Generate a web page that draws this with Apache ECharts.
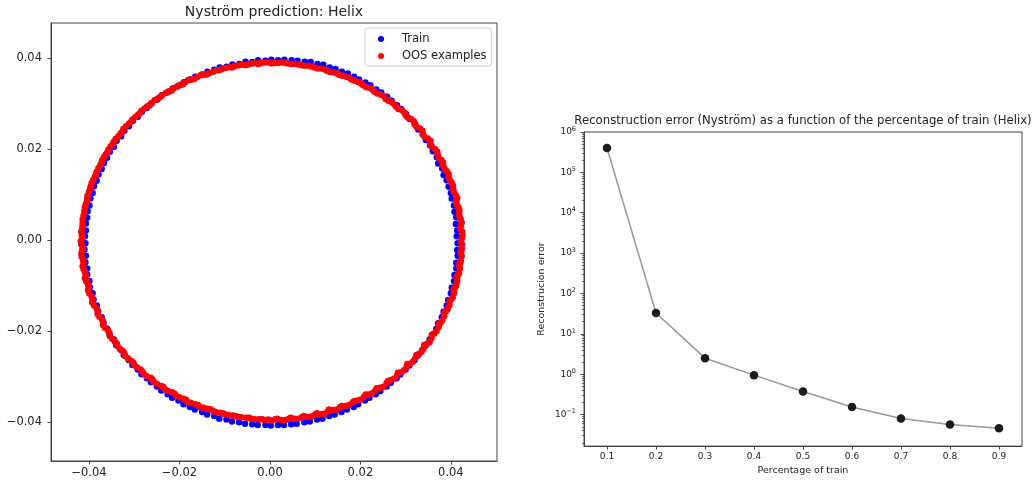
<!DOCTYPE html>
<html>
<head>
<meta charset="utf-8">
<script src="https://cdn.jsdelivr.net/npm/echarts@6/dist/echarts.min.js"></script>
<style>html,body{margin:0;padding:0;background:#fff}#c{width:1036px;height:481px}</style>
</head>
<body>
<div id="c"></div>
<script>
// ---- Left panel: Nyström prediction (Helix) ----
const trainPoints = [
[0.0415,-0.0007],[0.0413,0.0008],[0.0414,0.0021],[0.0411,0.0035],[0.0412,0.0050],[0.0408,0.0062],[0.0407,0.0076],[0.0402,0.0091],[0.0400,0.0103],[0.0395,0.0117],
[0.0391,0.0131],[0.0384,0.0143],[0.0381,0.0157],[0.0372,0.0168],[0.0369,0.0182],[0.0360,0.0195],[0.0354,0.0208],[0.0345,0.0220],[0.0338,0.0232],[0.0328,0.0243],
[0.0321,0.0255],[0.0309,0.0266],[0.0301,0.0277],[0.0290,0.0288],[0.0281,0.0296],[0.0269,0.0306],[0.0259,0.0315],[0.0246,0.0324],[0.0235,0.0331],[0.0222,0.0340],
[0.0211,0.0346],[0.0197,0.0353],[0.0186,0.0359],[0.0172,0.0366],[0.0159,0.0370],[0.0145,0.0376],[0.0132,0.0379],[0.0118,0.0385],[0.0105,0.0387],[0.0090,0.0391],
[0.0077,0.0392],[0.0061,0.0394],[0.0048,0.0395],[0.0032,0.0396],[0.0018,0.0395],[0.0003,0.0396],[-0.0010,0.0394],[-0.0026,0.0395],[-0.0039,0.0391],[-0.0054,0.0392],
[-0.0068,0.0387],[-0.0083,0.0386],[-0.0096,0.0381],[-0.0111,0.0379],[-0.0123,0.0374],[-0.0138,0.0370],[-0.0150,0.0364],[-0.0165,0.0359],[-0.0177,0.0353],[-0.0190,0.0347],
[-0.0202,0.0339],[-0.0215,0.0333],[-0.0226,0.0325],[-0.0239,0.0318],[-0.0250,0.0308],[-0.0262,0.0300],[-0.0272,0.0290],[-0.0283,0.0282],[-0.0292,0.0271],[-0.0303,0.0262],
[-0.0312,0.0250],[-0.0322,0.0240],[-0.0329,0.0228],[-0.0339,0.0218],[-0.0345,0.0205],[-0.0354,0.0194],[-0.0360,0.0181],[-0.0367,0.0169],[-0.0372,0.0156],[-0.0379,0.0144],
[-0.0383,0.0130],[-0.0389,0.0118],[-0.0392,0.0103],[-0.0397,0.0091],[-0.0399,0.0076],[-0.0403,0.0063],[-0.0404,0.0049],[-0.0407,0.0036],[-0.0407,0.0021],[-0.0409,0.0008],
[-0.0408,-0.0007],[-0.0410,-0.0021],[-0.0407,-0.0035],[-0.0408,-0.0049],[-0.0404,-0.0063],[-0.0404,-0.0076],[-0.0399,-0.0090],[-0.0398,-0.0104],[-0.0392,-0.0117],[-0.0390,-0.0131],
[-0.0383,-0.0144],[-0.0380,-0.0157],[-0.0372,-0.0170],[-0.0368,-0.0182],[-0.0360,-0.0195],[-0.0355,-0.0207],[-0.0345,-0.0219],[-0.0340,-0.0231],[-0.0329,-0.0242],[-0.0323,-0.0253],
[-0.0312,-0.0264],[-0.0304,-0.0275],[-0.0292,-0.0285],[-0.0284,-0.0295],[-0.0272,-0.0304],[-0.0263,-0.0313],[-0.0250,-0.0322],[-0.0240,-0.0331],[-0.0226,-0.0339],[-0.0216,-0.0347],
[-0.0202,-0.0353],[-0.0191,-0.0361],[-0.0177,-0.0367],[-0.0166,-0.0373],[-0.0150,-0.0378],[-0.0139,-0.0384],[-0.0123,-0.0387],[-0.0112,-0.0393],[-0.0096,-0.0395],[-0.0084,-0.0399],
[-0.0068,-0.0401],[-0.0055,-0.0404],[-0.0039,-0.0405],[-0.0027,-0.0407],[-0.0010,-0.0407],[0.0002,-0.0408],[0.0018,-0.0407],[0.0031,-0.0407],[0.0047,-0.0405],[0.0059,-0.0404],
[0.0076,-0.0401],[0.0088,-0.0399],[0.0104,-0.0395],[0.0116,-0.0393],[0.0131,-0.0387],[0.0143,-0.0384],[0.0158,-0.0378],[0.0170,-0.0373],[0.0185,-0.0367],[0.0195,-0.0361],
[0.0210,-0.0353],[0.0220,-0.0347],[0.0234,-0.0339],[0.0244,-0.0332],[0.0258,-0.0322],[0.0267,-0.0314],[0.0280,-0.0304],[0.0288,-0.0296],[0.0300,-0.0285],[0.0308,-0.0276],
[0.0320,-0.0264],[0.0327,-0.0254],[0.0337,-0.0242],[0.0344,-0.0232],[0.0353,-0.0219],[0.0359,-0.0208],[0.0368,-0.0195],[0.0372,-0.0183],[0.0380,-0.0170],[0.0384,-0.0158],
[0.0391,-0.0144],[0.0394,-0.0132],[0.0400,-0.0117],[0.0402,-0.0105],[0.0407,-0.0090],[0.0408,-0.0077],[0.0412,-0.0063],[0.0412,-0.0050],[0.0415,-0.0035],[0.0414,-0.0022]
];
const oosPoints = [
[0.0424,0.0004],[0.0425,0.0018],[0.0422,0.0031],[0.0422,0.0045],[0.0418,0.0058],[0.0417,0.0072],[0.0412,0.0085],[0.0411,0.0098],[0.0405,0.0112],[0.0402,0.0125],
[0.0395,0.0138],[0.0391,0.0151],[0.0383,0.0163],[0.0379,0.0176],[0.0371,0.0187],[0.0365,0.0200],[0.0355,0.0211],[0.0349,0.0223],[0.0338,0.0233],[0.0332,0.0245],
[0.0320,0.0254],[0.0312,0.0266],[0.0300,0.0274],[0.0292,0.0285],[0.0279,0.0293],[0.0270,0.0302],[0.0256,0.0310],[0.0246,0.0319],[0.0231,0.0326],[0.0221,0.0334],
[0.0206,0.0340],[0.0196,0.0347],[0.0181,0.0352],[0.0169,0.0359],[0.0153,0.0363],[0.0142,0.0368],[0.0126,0.0372],[0.0114,0.0377],[0.0098,0.0379],[0.0086,0.0383],
[0.0069,0.0384],[0.0056,0.0387],[0.0040,0.0388],[0.0027,0.0390],[0.0010,0.0389],[-0.0002,0.0390],[-0.0019,0.0389],[-0.0032,0.0389],[-0.0048,0.0386],[-0.0061,0.0385],
[-0.0078,0.0382],[-0.0090,0.0380],[-0.0106,0.0376],[-0.0118,0.0373],[-0.0134,0.0367],[-0.0145,0.0364],[-0.0161,0.0358],[-0.0173,0.0353],[-0.0188,0.0346],[-0.0198,0.0341],
[-0.0213,0.0333],[-0.0223,0.0327],[-0.0238,0.0318],[-0.0248,0.0311],[-0.0262,0.0301],[-0.0271,0.0294],[-0.0284,0.0284],[-0.0292,0.0275],[-0.0304,0.0265],[-0.0312,0.0255],
[-0.0324,0.0244],[-0.0330,0.0234],[-0.0341,0.0222],[-0.0347,0.0212],[-0.0357,0.0199],[-0.0363,0.0188],[-0.0371,0.0175],[-0.0375,0.0164],[-0.0383,0.0150],[-0.0387,0.0139],
[-0.0394,0.0125],[-0.0397,0.0113],[-0.0403,0.0098],[-0.0404,0.0086],[-0.0409,0.0072],[-0.0410,0.0059],[-0.0414,0.0045],[-0.0414,0.0032],[-0.0417,0.0018],[-0.0415,0.0005],
[-0.0417,-0.0010],[-0.0415,-0.0023],[-0.0416,-0.0037],[-0.0412,-0.0050],[-0.0412,-0.0064],[-0.0407,-0.0077],[-0.0406,-0.0091],[-0.0401,-0.0103],[-0.0399,-0.0118],[-0.0392,-0.0130],
[-0.0389,-0.0144],[-0.0381,-0.0155],[-0.0377,-0.0169],[-0.0369,-0.0180],[-0.0365,-0.0193],[-0.0355,-0.0204],[-0.0349,-0.0217],[-0.0339,-0.0227],[-0.0332,-0.0239],[-0.0322,-0.0249],
[-0.0314,-0.0260],[-0.0302,-0.0270],[-0.0294,-0.0280],[-0.0282,-0.0289],[-0.0273,-0.0299],[-0.0260,-0.0306],[-0.0250,-0.0316],[-0.0236,-0.0323],[-0.0225,-0.0332],[-0.0211,-0.0338],
[-0.0200,-0.0346],[-0.0186,-0.0351],[-0.0175,-0.0358],[-0.0159,-0.0363],[-0.0147,-0.0369],[-0.0132,-0.0372],[-0.0120,-0.0378],[-0.0104,-0.0381],[-0.0092,-0.0385],[-0.0076,-0.0387],
[-0.0063,-0.0390],[-0.0046,-0.0391],[-0.0034,-0.0394],[-0.0017,-0.0394],[-0.0004,-0.0395],[0.0012,-0.0394],[0.0025,-0.0396],[0.0042,-0.0393],[0.0054,-0.0393],[0.0071,-0.0389],
[0.0084,-0.0389],[0.0100,-0.0384],[0.0112,-0.0383],[0.0128,-0.0377],[0.0140,-0.0374],[0.0155,-0.0368],[0.0167,-0.0365],[0.0183,-0.0357],[0.0194,-0.0353],[0.0208,-0.0345],
[0.0219,-0.0340],[0.0233,-0.0331],[0.0244,-0.0325],[0.0258,-0.0315],[0.0268,-0.0308],[0.0281,-0.0298],[0.0290,-0.0291],[0.0302,-0.0279],[0.0310,-0.0272],[0.0322,-0.0259],
[0.0330,-0.0251],[0.0340,-0.0238],[0.0347,-0.0229],[0.0357,-0.0216],[0.0363,-0.0206],[0.0373,-0.0192],[0.0377,-0.0182],[0.0385,-0.0168],[0.0389,-0.0157],[0.0397,-0.0143],
[0.0400,-0.0132],[0.0407,-0.0117],[0.0409,-0.0105],[0.0414,-0.0090],[0.0415,-0.0079],[0.0420,-0.0063],[0.0420,-0.0052],[0.0424,-0.0036],[0.0423,-0.0025],[0.0425,-0.0010],
[0.0422,-0.0003],[0.0426,0.0011],[0.0421,0.0024],[0.0424,0.0038],[0.0419,0.0052],[0.0419,0.0065],[0.0413,0.0078],[0.0414,0.0092],[0.0407,0.0105],[0.0405,0.0119],
[0.0398,0.0131],[0.0395,0.0145],[0.0386,0.0157],[0.0383,0.0170],[0.0373,0.0181],[0.0370,0.0194],[0.0358,0.0205],[0.0355,0.0218],[0.0342,0.0227],[0.0337,0.0240],
[0.0324,0.0249],[0.0318,0.0261],[0.0305,0.0269],[0.0297,0.0280],[0.0284,0.0288],[0.0275,0.0298],[0.0262,0.0306],[0.0252,0.0316],[0.0237,0.0322],[0.0227,0.0330],
[0.0213,0.0336],[0.0202,0.0344],[0.0188,0.0350],[0.0176,0.0356],[0.0160,0.0361],[0.0149,0.0366],[0.0133,0.0369],[0.0121,0.0375],[0.0106,0.0377],[0.0093,0.0381],
[0.0077,0.0383],[0.0063,0.0386],[0.0048,0.0387],[0.0035,0.0389],[0.0018,0.0389],
[0.0004,0.0388],[-0.0010,0.0390],[-0.0026,0.0387],[-0.0040,0.0388],[-0.0054,0.0384],[-0.0069,0.0384],[-0.0084,0.0379],[-0.0098,0.0378],[-0.0112,0.0373],[-0.0125,0.0370],
[-0.0140,0.0364],[-0.0153,0.0362],[-0.0167,0.0354],[-0.0181,0.0351],[-0.0193,0.0342],[-0.0206,0.0337],[-0.0218,0.0328],[-0.0230,0.0323],[-0.0243,0.0314],[-0.0255,0.0307],
[-0.0266,0.0296],[-0.0277,0.0289],[-0.0288,0.0278],[-0.0298,0.0270],[-0.0308,0.0259],[-0.0318,0.0250],[-0.0327,0.0237],[-0.0335,0.0228],[-0.0345,0.0216],[-0.0352,0.0206],
[-0.0360,0.0192],[-0.0367,0.0182],[-0.0373,0.0168],[-0.0379,0.0158],[-0.0385,0.0143],[-0.0391,0.0132],[-0.0396,0.0118],[-0.0400,0.0106],[-0.0404,0.0091],[-0.0407,0.0079],
[-0.0410,0.0064],[-0.0412,0.0053],[-0.0414,0.0037],[-0.0415,0.0025],[-0.0416,0.0010],
[-0.0418,-0.0003],[-0.0414,-0.0017],[-0.0417,-0.0030],[-0.0413,-0.0044],[-0.0414,-0.0058],[-0.0409,-0.0071],[-0.0409,-0.0084],[-0.0402,-0.0098],[-0.0402,-0.0111],[-0.0394,-0.0125],
[-0.0393,-0.0137],[-0.0383,-0.0150],[-0.0381,-0.0163],[-0.0371,-0.0175],[-0.0369,-0.0187],[-0.0358,-0.0199],[-0.0354,-0.0211],[-0.0343,-0.0223],[-0.0337,-0.0233],[-0.0325,-0.0244],
[-0.0320,-0.0255],[-0.0306,-0.0266],[-0.0300,-0.0275],[-0.0286,-0.0285],[-0.0279,-0.0294],[-0.0264,-0.0303],[-0.0257,-0.0312],[-0.0241,-0.0321],[-0.0232,-0.0328],[-0.0216,-0.0335],
[-0.0208,-0.0342],[-0.0191,-0.0349],[-0.0183,-0.0356],[-0.0165,-0.0361],[-0.0155,-0.0367],[-0.0138,-0.0371],[-0.0127,-0.0375],[-0.0110,-0.0380],[-0.0100,-0.0383],[-0.0082,-0.0386],
[-0.0071,-0.0389],[-0.0052,-0.0391],[-0.0042,-0.0393],[-0.0024,-0.0394],[-0.0012,-0.0396],
[0.0004,-0.0397],[0.0016,-0.0393],[0.0034,-0.0396],[0.0046,-0.0391],[0.0062,-0.0393],[0.0075,-0.0387],[0.0092,-0.0388],[0.0104,-0.0381],[0.0120,-0.0382],[0.0131,-0.0373],
[0.0148,-0.0373],[0.0159,-0.0365],[0.0175,-0.0363],[0.0187,-0.0354],[0.0201,-0.0351],[0.0212,-0.0340],[0.0226,-0.0337],[0.0236,-0.0326],[0.0251,-0.0323],[0.0261,-0.0310],
[0.0274,-0.0305],[0.0283,-0.0292],[0.0296,-0.0287],[0.0304,-0.0273],[0.0316,-0.0268],[0.0324,-0.0253],[0.0335,-0.0246],[0.0341,-0.0231],[0.0353,-0.0225],[0.0358,-0.0209],
[0.0368,-0.0201],[0.0373,-0.0185],[0.0381,-0.0177],[0.0385,-0.0161],[0.0393,-0.0152],[0.0397,-0.0135],[0.0404,-0.0127],[0.0406,-0.0109],[0.0412,-0.0100],[0.0413,-0.0082],
[0.0418,-0.0073],[0.0418,-0.0056],[0.0422,-0.0046],[0.0421,-0.0028],[0.0424,-0.0019]
];
const leftXTicks = [-0.04, -0.02, 0, 0.02, 0.04];
const leftYTicks = [-0.04, -0.02, 0, 0.02, 0.04];

// ---- Right panel: reconstruction error vs percentage of train ----
const trainPct = [0.1, 0.2, 0.3, 0.4, 0.5, 0.6, 0.7, 0.8, 0.9];
const reconError = [4.0e5, 33, 2.5, 0.95, 0.375, 0.154, 0.080, 0.057, 0.046];
const rightXTicks = [0.1, 0.2, 0.3, 0.4, 0.5, 0.6, 0.7, 0.8, 0.9];
const rightYTicks = [0.1, 1, 10, 100, 1000, 1e4, 1e5, 1e6];
const minorMultipliers = [2, 3, 4, 5, 6, 7, 8, 9];
const minorDecades = [0.01, 0.1, 1, 10, 100, 1000, 1e4, 1e5];

const rightYMinor = [];
minorDecades.forEach(d => minorMultipliers.forEach(m => { const v = +(d * m).toPrecision(3); if (v >= 0.0166 && v <= 1e6) rightYMinor.push(v); }));

const FONT = '"DejaVu Sans", "Liberation Sans", sans-serif';
const AX = '#444';
const TXT = '#222';
const minusFmt = v => (Math.abs(v) < 1e-12 ? 0 : v).toFixed(2).replace('-', '\u2212');

const chart = echarts.init(document.getElementById('c'), null, {renderer: 'canvas'});
chart.setOption({
  animation: false,
  backgroundColor: '#fff',
  textStyle: {fontFamily: FONT},
  grid: [
    {left: 51, top: 23, width: 446, height: 438, show: true, borderColor: AX, borderWidth: 1, backgroundColor: 'transparent'},
    {left: 584, top: 132, width: 438, height: 319, show: true, borderColor: AX, borderWidth: 1, backgroundColor: 'transparent'}
  ],
  graphic: [
    {type: 'text', x: 274, y: 12, style: {text: 'Nystr\u00f6m prediction: Helix', font: '14px ' + FONT, fill: TXT, align: 'center', verticalAlign: 'middle', textAlign: 'center', textVerticalAlign: 'middle'}},
    {type: 'text', x: 803, y: 121, style: {text: 'Reconstruction error (Nystr\u00f6m) as a function of the percentage of train (Helix)', font: '11.7px ' + FONT, fill: TXT, align: 'center', verticalAlign: 'middle', textAlign: 'center', textVerticalAlign: 'middle'}}
  ],
  legend: {
    data: ['Train', 'OOS examples'],
    orient: 'vertical', left: 365, top: 28,
    padding: [4, 5, 3, 13], itemGap: 3, itemWidth: 32, itemHeight: 6,
    icon: 'circle',
    borderColor: '#d0d0d0', borderWidth: 1, borderRadius: 3, backgroundColor: 'rgba(255,255,255,0.85)',
    textStyle: {fontSize: 11.5, color: TXT, fontFamily: FONT, lineHeight: 14}
  },
  xAxis: [
    {gridIndex: 0, type: 'value', min: -0.0484, max: 0.0502,
     axisLine: {show: true, onZero: false, lineStyle: {color: AX}}, splitLine: {show: false},
     axisTick: {show: true, length: 3.5, customValues: leftXTicks, lineStyle: {color: AX}},
     axisLabel: {customValues: leftXTicks, formatter: minusFmt, fontSize: 11.5, color: TXT, margin: 6, fontFamily: FONT}},
    {gridIndex: 1, type: 'value', min: 0.053, max: 0.947,
     axisLine: {show: true, onZero: false, lineStyle: {color: AX}}, splitLine: {show: false},
     axisTick: {show: true, length: 3.5, customValues: rightXTicks, lineStyle: {color: AX}},
     axisLabel: {customValues: rightXTicks, formatter: v => v.toFixed(1), fontSize: 9, color: TXT, margin: 6, fontFamily: FONT},
     name: 'Percentage of train', nameLocation: 'middle', nameGap: 19,
     nameTextStyle: {fontSize: 9.5, color: TXT, fontFamily: FONT}}
  ],
  yAxis: [
    {gridIndex: 0, type: 'value', min: -0.0486, max: 0.0477,
     axisLine: {show: true, onZero: false, lineStyle: {color: AX}}, splitLine: {show: false},
     axisTick: {show: true, length: 3.5, customValues: leftYTicks, lineStyle: {color: AX}},
     axisLabel: {customValues: leftYTicks, formatter: minusFmt, fontSize: 11.5, color: TXT, margin: 9, fontFamily: FONT}},
    {gridIndex: 1, type: 'log', logBase: 10, min: 0.0166, max: 1e6, position: 'left',
     axisLine: {show: true, onZero: false, lineStyle: {color: AX}}, splitLine: {show: false},
     axisTick: {show: true, length: 3.5, customValues: rightYTicks, lineStyle: {color: AX}},
     axisLabel: {customValues: rightYTicks, fontSize: 9, color: TXT, margin: 8, fontFamily: FONT,
       formatter: v => { const e = Math.round(Math.log10(v)); return '{b|10}{s|' + (e < 0 ? '\u2212' + (-e) : e) + '}'; },
       rich: {b: {fontSize: 9, color: TXT, fontFamily: FONT}, s: {fontSize: 6.5, color: TXT, fontFamily: FONT, padding: [0, 0, 6, 0]}}},
     name: 'Reconstrucion error', nameLocation: 'middle', nameGap: 37, nameRotate: 90,
     nameTextStyle: {fontSize: 9.5, color: TXT, fontFamily: FONT}},
    {gridIndex: 1, type: 'log', logBase: 10, min: 0.0166, max: 1e6, position: 'left', offset: 0,
     axisLine: {show: false, onZero: false}, splitLine: {show: false},
     axisTick: {show: true, length: 2, customValues: rightYMinor, lineStyle: {color: AX, width: 0.8}},
     axisLabel: {show: false}}
  ],
  series: [
    {name: 'Train', type: 'scatter', xAxisIndex: 0, yAxisIndex: 0, data: trainPoints,
     symbol: 'circle', symbolSize: 6.5, itemStyle: {color: '#0000ff', opacity: 1}},
    {name: 'OOS examples', type: 'scatter', xAxisIndex: 0, yAxisIndex: 0, data: oosPoints,
     symbol: 'circle', symbolSize: 6.5, itemStyle: {color: '#ff0000', opacity: 1}},
    {name: 'recon', type: 'line', xAxisIndex: 1, yAxisIndex: 1,
     data: trainPct.map((p, i) => [p, reconError[i]]),
     symbol: 'circle', symbolSize: 8.5, showSymbol: true,
     lineStyle: {color: '#999999', width: 1.5}, itemStyle: {color: '#1c1c1c'}, z: 3}
  ]
});
</script>
</body>
</html>
